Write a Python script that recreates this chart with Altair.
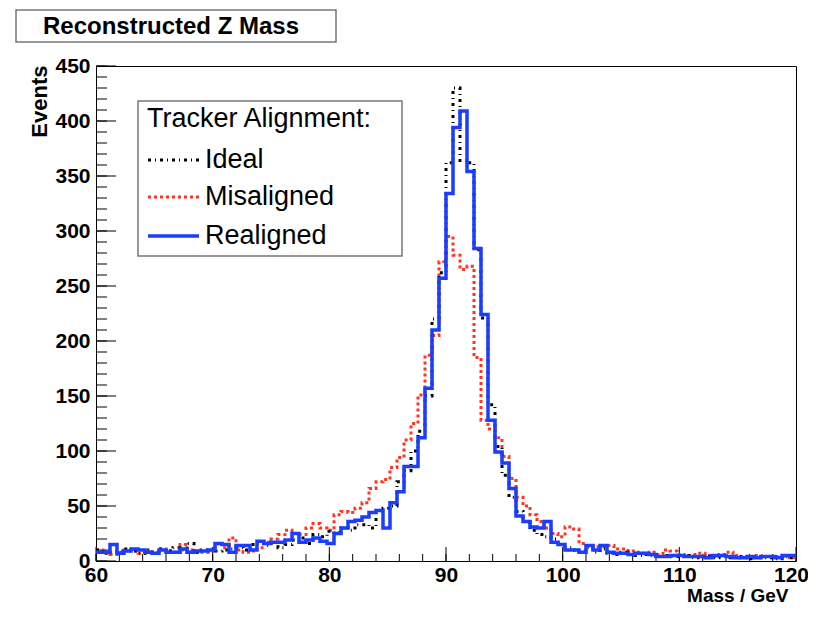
import altair as alt
import numpy as np
import pandas as pd

# ---------------- data ----------------
x_min, x_max = 60.0, 120.0
n_bins = 100

ideal = [10, 7, 8, 9, 11, 9, 7, 10, 8, 11, 9, 12, 10, 16, 8, 10, 11, 9, 10, 11, 12, 10, 15,
         16, 14, 17, 12, 15, 19, 21, 16, 24, 22, 27, 26, 30, 28, 33, 33, 30, 46, 48, 50,
         72, 82, 100, 118, 150, 220, 262,
         362, 430, 364, 362, 283, 221, 142, 104, 78, 58, 45, 36, 28, 24, 22,
         20, 15, 12, 10, 9, 12, 8, 11, 7, 6, 8, 6, 5, 6, 5, 4, 5, 4, 4, 5,
         3, 4, 4, 3, 4, 3, 4, 3, 2, 4, 3, 3, 2, 4, 3]

misaligned = [10, 9, 6, 8, 10, 9, 7, 10, 8, 11, 9, 8, 15, 10, 8, 8, 9, 16, 12, 21, 10, 8, 9,
              12, 17, 20, 24, 28, 25, 24, 30, 34, 30, 28, 42, 45, 44, 48, 53, 66, 72, 74, 85,
              94, 110, 125, 151, 187, 205, 272,
              295, 278, 265, 268, 185, 128, 120, 112, 95, 75, 58, 50, 42, 36, 30,
              25, 22, 31, 29, 16, 14, 13, 13, 14, 11, 11, 9, 8, 7, 8, 6, 10, 9, 6, 5,
              6, 7, 5, 4, 6, 8, 5, 4, 3, 5, 4, 3, 4, 4, 3]

realigned = [8, 8, 15, 7, 9, 11, 10, 8, 7, 10, 8, 8, 11, 8, 9, 9, 10, 16, 15, 8, 14, 14, 10,
             18, 16, 17, 17, 19, 25, 17, 19, 21, 18, 16, 25, 30, 36, 37, 40, 44, 46, 30, 53,
             63, 86, 86, 112, 157, 210, 257,
             334, 394, 409, 354, 284, 224, 128, 99, 89, 66, 41, 36, 31, 30, 36,
             17, 15, 10, 10, 8, 14, 10, 14, 8, 7, 7, 6, 7, 7, 6, 4, 4, 5, 5, 4,
             4, 4, 3, 5, 5, 4, 3, 3, 4, 3, 4, 4, 3, 5, 5]

series_names = ["Ideal", "Misaligned", "Realigned"]
legend_title = "Tracker Alignment:"
chart_title = "Reconstructed Z Mass"
x_title = "Mass / GeV"
y_title = "Events"

y_label_values = list(range(0, 451, 50))
x_label_values = list(range(60, 121, 10))
y_minor_values = list(range(0, 451, 10))
x_minor_values = list(range(60, 121, 2))

# ---------------- tables ----------------
edges = np.linspace(x_min, x_max, n_bins + 1)


def series_df(vals):
    return pd.DataFrame({"mass": edges, "events": list(vals) + [vals[-1]]})


FONT = "Liberation Sans"
RED = "#ff3322"
BLUE = "#1a3dff"
BLACK = "#000000"

x_scale = alt.Scale(domain=[x_min, x_max], nice=False, zero=False)
y_scale = alt.Scale(domain=[0, 450], nice=False)

x_axis = alt.Axis(values=x_label_values, ticks=False, domain=False, grid=False,
                  labelFont=FONT, labelFontSize=21, labelFontWeight="bold",
                  labelColor="black", labelPadding=3, labelFlush=False, labelOverlap=False,
                  labelOffset={"condition": {"test": "datum.value >= 120", "value": -5}, "value": 0},
                  title=x_title, titleFont=FONT, titleFontSize=19, titleFontWeight="bold",
                  titleColor="black", titleAlign="right", titleAnchor="end",
                  titleX=692, titleY=40, titleBaseline="alphabetic")
y_axis = alt.Axis(values=y_label_values, ticks=False, domain=False, grid=False,
                  labelFont=FONT, labelFontSize=21, labelFontWeight="bold",
                  labelColor="black", labelPadding=6, labelFlush=False, labelOverlap=False,
                  title=y_title, titleFont=FONT, titleFontSize=22, titleFontWeight="bold",
                  titleColor="black", titleAngle=-90, titleAlign="right",
                  titleBaseline="middle", titleX=-57, titleY=-1)

X = alt.X("mass:Q", scale=x_scale, axis=x_axis)
Y = alt.Y("events:Q", scale=y_scale, axis=y_axis)


def hist_layer(vals, color, dash, width):
    kw = dict(interpolate="step-after", color=color, strokeWidth=width)
    if dash:
        kw["strokeDash"] = dash
    return alt.Chart(series_df(vals)).mark_line(**kw).encode(x=X, y=Y)


red_layer = hist_layer(misaligned, RED, [3, 3], 3)
black_layer = hist_layer(ideal, BLACK, [3, 4, 1, 4], 3)
blue_layer = hist_layer(realigned, BLUE, None, 3.5)

# inward ticks (ROOT style)
ymaj = alt.Chart(pd.DataFrame({"events": y_label_values})).mark_rule(color="black", strokeWidth=1).encode(
    y=Y, x=alt.value(0), x2=alt.value(20))
ymin = alt.Chart(pd.DataFrame({"events": y_minor_values})).mark_rule(color="black", strokeWidth=1).encode(
    y=Y, x=alt.value(0), x2=alt.value(11))
xmaj = alt.Chart(pd.DataFrame({"mass": x_label_values})).mark_rule(color="black", strokeWidth=1).encode(
    x=X, y=alt.value(495), y2=alt.value(481))
xmin = alt.Chart(pd.DataFrame({"mass": x_minor_values})).mark_rule(color="black", strokeWidth=1).encode(
    x=X, y=alt.value(495), y2=alt.value(488))

one = pd.DataFrame({"a": [0]})

# legend box
leg_box = alt.Chart(one).mark_rect(fill="white", stroke="#777777", strokeWidth=1.5).encode(
    x=alt.value(42), x2=alt.value(306), y=alt.value(35), y2=alt.value(190))
leg_title = alt.Chart(one).mark_text(align="left", baseline="middle", font=FONT, fontSize=27,
                                     color="black").encode(
    x=alt.value(51), y=alt.value(53), text=alt.value(legend_title))

leg_rows = [(series_names[0], BLACK, [3, 4, 1, 4], 3, 94),
            (series_names[1], RED, [3, 3], 3, 131),
            (series_names[2], BLUE, None, 3.5, 170)]
leg_layers = []
for name, col, dash, w, yy in leg_rows:
    kw = dict(color=col, strokeWidth=w)
    if dash:
        kw["strokeDash"] = dash
    leg_layers.append(alt.Chart(one).mark_rule(**kw).encode(
        x=alt.value(52), x2=alt.value(103), y=alt.value(yy)))
    leg_layers.append(alt.Chart(one).mark_text(align="left", baseline="middle", font=FONT,
                                               fontSize=27, color="black").encode(
        x=alt.value(109), y=alt.value(yy), text=alt.value(name)))

# title box
title_box = alt.Chart(one).mark_rect(fill="white", stroke="#777777", strokeWidth=1.5).encode(
    x=alt.value(-80), x2=alt.value(240), y=alt.value(-56), y2=alt.value(-24))
title_text = alt.Chart(one).mark_text(align="center", baseline="middle", font=FONT, fontSize=24,
                                      fontWeight="bold", color="black").encode(
    x=alt.value(75), y=alt.value(-39), text=alt.value(chart_title))

chart = alt.layer(
    ymin, ymaj, xmin, xmaj,
    red_layer, black_layer, blue_layer,
    leg_box, leg_title, *leg_layers,
    title_box, title_text,
).properties(
    width=700, height=495,
    autosize=alt.AutoSizeParams(type="none"),
    padding={"left": 88, "top": 58, "right": 12, "bottom": 43},
    background="white",
).configure_view(stroke="black", strokeWidth=1)

chart.save("out.html", embed_options={"renderer": "svg", "actions": False})
